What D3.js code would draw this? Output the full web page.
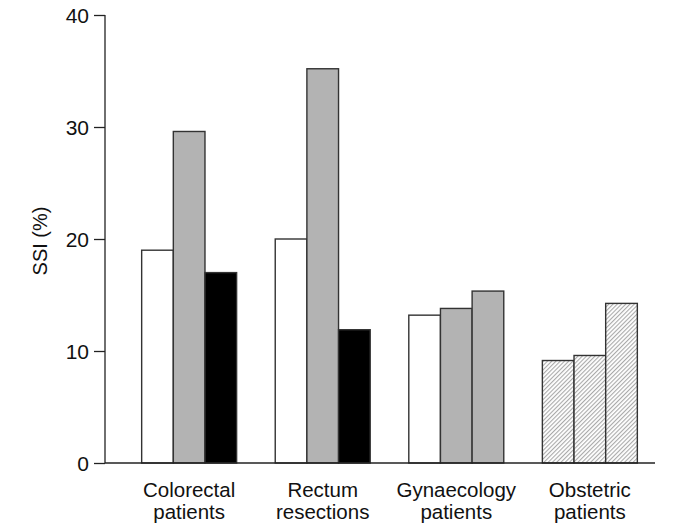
<!DOCTYPE html>
<html><head><meta charset="utf-8">
<script src="https://cdn.jsdelivr.net/npm/d3@7"></script>
<style>body{margin:0;background:#fff;} text{font-family:"Liberation Sans",Arial,sans-serif;fill:#111;}</style>
</head><body>
<svg id="chart" width="685" height="526"></svg>
<script>
const categories = [["Colorectal","patients"],["Rectum","resections"],["Gynaecology","patients"],["Obstetric","patients"]];
const series1 = [19.0, 20.0, 13.2, 9.15];
const series2 = [29.6, 35.2, 13.8, 9.6];
const series3 = [17.0, 11.9, 15.35, 14.25];
const fills = [["white","gray","black"],["white","gray","black"],["white","gray","gray"],["hatch","hatch","hatch"]];
const yTicks = [0,10,20,30,40];

const svg = d3.select("#chart");
const defs = svg.append("defs");
const pat = defs.append("pattern").attr("id","hatch").attr("patternUnits","userSpaceOnUse")
  .attr("width",3).attr("height",3).attr("patternTransform","rotate(45)");
pat.append("rect").attr("width",3).attr("height",3).attr("fill","white");
pat.append("line").attr("x1",0.6).attr("y1",0).attr("x2",0.6).attr("y2",3).attr("stroke","#888").attr("stroke-width",0.8);

const colorMap = {white:"#ffffff", gray:"#b3b3b3", black:"#000000", hatch:"url(#hatch)"};

const y = d3.scaleLinear().domain([0,40]).range([463,15]);
const x0 = d3.scaleBand().domain(d3.range(4)).range([105,674]).paddingInner(0.289).paddingOuter(0.2745);
const x1 = d3.scaleBand().domain([0,1,2]).range([0,x0.bandwidth()]);

const data = [];
categories.forEach((c,i)=>{
  [series1[i],series2[i],series3[i]].forEach((v,j)=>data.push({g:i,s:j,v,f:fills[i][j]}));
});

svg.append("g").selectAll("rect").data(data).join("rect")
  .attr("x",d=>x0(d.g)+x1(d.s))
  .attr("y",d=>y(d.v))
  .attr("width",x1.bandwidth())
  .attr("height",d=>y(0)-y(d.v))
  .attr("fill",d=>colorMap[d.f])
  .attr("stroke","#333").attr("stroke-width",1.4);

// y axis
const yAxis = svg.append("g").attr("transform","translate(105,0)")
  .call(d3.axisLeft(y).tickValues(yTicks).tickSize(11).tickPadding(5));
yAxis.attr("font-size",null).attr("font-family",null);
yAxis.select(".domain").attr("stroke","#222").attr("stroke-width",1.3).attr("d","M0,15V463");
yAxis.selectAll(".tick line").attr("stroke","#222").attr("stroke-width",1.3);
yAxis.selectAll("text").attr("font-size",21).attr("fill","#111").attr("dy","0.36em");

// x axis line
svg.append("line").attr("x1",105).attr("x2",655).attr("y1",y(0)).attr("y2",y(0))
  .attr("stroke","#222").attr("stroke-width",1.3);

// category labels
const lab = svg.append("g");
categories.forEach((c,i)=>{
  const cx = x0(i)+x0.bandwidth()/2;
  const t = lab.append("text").attr("text-anchor","middle").attr("font-size",20.5);
  t.append("tspan").attr("x",cx).attr("y",497).text(c[0]);
  t.append("tspan").attr("x",cx).attr("y",519).text(c[1]);
});

svg.append("text").attr("transform","translate(47,241) rotate(-90)")
  .attr("text-anchor","middle").attr("font-size",20).text("SSI (%)");
</script>
</body></html>
